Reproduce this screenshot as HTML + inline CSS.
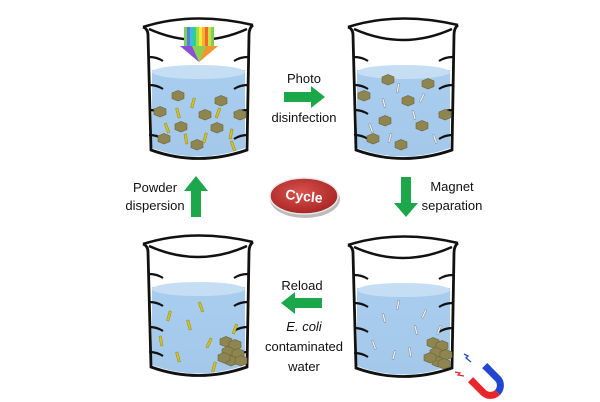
<!DOCTYPE html>
<html><head><meta charset="utf-8"><style>
html,body{margin:0;padding:0;background:#fff;width:600px;height:402px;overflow:hidden}
text{font-family:"Liberation Sans",sans-serif;font-size:13px;fill:#111}
</style></head><body>
<svg width="600" height="402" viewBox="0 0 600 402" xmlns="http://www.w3.org/2000/svg">
<defs>
<linearGradient id="wat" x1="0" y1="0" x2="0" y2="1"><stop offset="0" stop-color="#a9cdee"/><stop offset="1" stop-color="#a3c8ea"/></linearGradient>
<radialGradient id="cyc" cx="0.45" cy="0.4" r="0.6"><stop offset="0" stop-color="#d9534f"/><stop offset="1" stop-color="#a82624"/></radialGradient>
<g id="beaker">
 <path d="M9,55 L9,133 Q55,150 102,133 L102,55 Z" fill="url(#wat)"/>
 <ellipse cx="55.5" cy="57" rx="46.5" ry="7" fill="#c6def4"/>
 <path d="M0,12 Q50,-4 110,10" fill="none" stroke="#111" stroke-width="2.5"/>
 <path d="M6,14 Q55,36 104,14" fill="none" stroke="#111" stroke-width="2.5"/>
 <path d="M0,12 Q5,14 5,20 L8,135 Q55,152 104,135 L106,20 Q106,13 110,10" fill="none" stroke="#111" stroke-width="2.8"/>
 <g stroke="#111" stroke-width="2.2" fill="none">
  <path d="M6,42 Q14,42 20,46"/><path d="M6,70 Q14,70 20,74"/><path d="M6,95 Q14,95 20,99"/><path d="M6,120 Q14,120 20,124"/>
  <path d="M105,42 Q97,42 91,46"/><path d="M105,70 Q97,70 91,74"/><path d="M105,95 Q97,95 91,99"/><path d="M105,120 Q97,120 91,124"/>
 </g>
</g>
<g id="hex"><polygon points="-6,-3 0,-5.5 6,-3 6,2.5 0,5 -6,2.5" fill="#8f8551" stroke="#6e6538" stroke-width="0.6"/></g>
<g id="rodY"><rect x="-1.2" y="-5" width="2.4" height="10" fill="#d6c21d" stroke="#8a7a10" stroke-width="0.4"/></g>
<g id="rodW"><rect x="-0.9" y="-4.5" width="1.8" height="9" fill="#eef0f4" stroke="#777" stroke-width="0.4"/></g>
</defs>

<use href="#beaker" x="143" y="15"/>
<g>
 <rect x="184" y="27" width="30" height="20" fill="#7ecf5a"/>
 <rect x="190" y="27" width="3" height="20" fill="#3bbbe0"/><rect x="193" y="27" width="3" height="20" fill="#2fd08a"/>
 <rect x="196" y="27" width="3" height="20" fill="#9ae04a"/><rect x="199" y="27" width="3" height="20" fill="#f3ea3a"/>
 <rect x="202" y="27" width="3" height="20" fill="#f5b331"/><rect x="205" y="27" width="3" height="20" fill="#f16a2a"/>
 <rect x="187" y="27" width="3" height="20" fill="#5c7de0"/><rect x="208" y="27" width="3" height="20" fill="#d0e040"/>
 <polygon points="180,46 218,46 199,62" fill="#8ad050"/>
 <polygon points="180,46 192,46 199,62" fill="#8a4fd8"/>
 <polygon points="206,46 218,46 199,62" fill="#f29430"/>
</g>
<g>
 <use href="#hex" x="178" y="96"/><use href="#hex" x="160" y="112"/><use href="#hex" x="221" y="101"/><use href="#hex" x="205" y="115"/>
 <use href="#hex" x="181" y="127"/><use href="#hex" x="217" y="128"/><use href="#hex" x="164" y="139"/><use href="#hex" x="197" y="145"/><use href="#hex" x="240" y="115"/>
 <use href="#rodY" x="193" y="103" transform="rotate(15 193 103)"/><use href="#rodY" x="178" y="113" transform="rotate(-15 178 113)"/>
 <use href="#rodY" x="218" y="113" transform="rotate(20 218 113)"/><use href="#rodY" x="167" y="128" transform="rotate(-20 167 128)"/>
 <use href="#rodY" x="186" y="139" transform="rotate(-10 186 139)"/><use href="#rodY" x="205" y="138" transform="rotate(15 205 138)"/>
 <use href="#rodY" x="231" y="134" transform="rotate(10 231 134)"/><use href="#rodY" x="233" y="146" transform="rotate(-20 233 146)"/>
</g>

<use href="#beaker" x="348" y="15"/>
<g>
 <use href="#hex" x="388" y="80"/><use href="#hex" x="364" y="96"/><use href="#hex" x="428" y="84"/><use href="#hex" x="408" y="101"/>
 <use href="#hex" x="385" y="121"/><use href="#hex" x="422" y="126"/><use href="#hex" x="373" y="139"/><use href="#hex" x="401" y="145"/><use href="#hex" x="445" y="115"/>
 <use href="#rodW" x="398" y="88" transform="rotate(10 398 88)"/><use href="#rodW" x="384" y="103" transform="rotate(-15 384 103)"/>
 <use href="#rodW" x="422" y="98" transform="rotate(25 422 98)"/><use href="#rodW" x="371" y="128" transform="rotate(-20 371 128)"/>
 <use href="#rodW" x="414" y="115" transform="rotate(-15 414 115)"/><use href="#rodW" x="390" y="138" transform="rotate(15 390 138)"/>
 <use href="#rodW" x="435" y="139" transform="rotate(-20 435 139)"/>
</g>

<use href="#beaker" x="143" y="232"/>
<g>
 <use href="#rodY" x="201" y="307" transform="rotate(-20 201 307)"/><use href="#rodY" x="169" y="316" transform="rotate(15 169 316)"/>
 <use href="#rodY" x="189" y="325" transform="rotate(-15 189 325)"/><use href="#rodY" x="235" y="329" transform="rotate(20 235 329)"/>
 <use href="#rodY" x="161" y="341" transform="rotate(-10 161 341)"/><use href="#rodY" x="209" y="343" transform="rotate(25 209 343)"/>
 <use href="#rodY" x="178" y="357" transform="rotate(-15 178 357)"/><use href="#rodY" x="214" y="367" transform="rotate(15 214 367)"/>
 <use href="#hex" x="226" y="342"/><use href="#hex" x="235" y="345"/><use href="#hex" x="228" y="352"/><use href="#hex" x="238" y="354"/><use href="#hex" x="231" y="361"/><use href="#hex" x="241" y="361"/><use href="#hex" x="224" y="358"/>
</g>

<use href="#beaker" x="348" y="233"/>
<g>
 <use href="#rodW" x="398" y="305" transform="rotate(10 398 305)"/><use href="#rodW" x="384" y="318" transform="rotate(-15 384 318)"/>
 <use href="#rodW" x="424" y="314" transform="rotate(25 424 314)"/><use href="#rodW" x="416" y="330" transform="rotate(-15 416 330)"/>
 <use href="#rodW" x="374" y="345" transform="rotate(-20 374 345)"/><use href="#rodW" x="394" y="355" transform="rotate(15 394 355)"/>
 <use href="#rodW" x="410" y="352" transform="rotate(-10 410 352)"/><use href="#rodW" x="439" y="330" transform="rotate(20 439 330)"/>
 <use href="#hex" x="433" y="343"/><use href="#hex" x="442" y="346"/><use href="#hex" x="436" y="353"/><use href="#hex" x="446" y="355"/><use href="#hex" x="438" y="362"/><use href="#hex" x="430" y="358"/><use href="#hex" x="444" y="364"/>
</g>

<!-- magnet: opening toward upper-left -->
<g transform="translate(489,384) rotate(-45)">
 <path d="M10,-16 L10,2 A10,10 0 0 1 0,12" fill="none" stroke="#2246d0" stroke-width="7"/>
 <path d="M0,12 A10,10 0 0 1 -10,2 L-10,-16" fill="none" stroke="#e8262a" stroke-width="7"/>
 <rect x="-13.5" y="-16" width="7" height="5" fill="#e8262a"/>
 <rect x="6.5" y="-16" width="7" height="5" fill="#2246d0"/>
</g>
<path d="M464,354 l4,2 -2,2 5,4" fill="none" stroke="#2246d0" stroke-width="1.3"/>
<path d="M455,372 l5,1 -2,2 6,1" fill="none" stroke="#e8262a" stroke-width="1.3"/>

<polygon points="284,92 311,92 311,86 325,97 311,108 311,102 284,102" fill="#1ca84a"/>
<polygon points="401,177 411,177 411,203 418,203 406,217 394,203 401,203" fill="#1ca84a"/>
<polygon points="191,217 201,217 201,191 208,191 196,176 184,191 191,191" fill="#1ca84a"/>
<polygon points="322,298 295,298 295,292 281,303 295,314 295,308 322,308" fill="#1ca84a"/>

<ellipse cx="305" cy="199" rx="35" ry="19" fill="#bbb"/>
<ellipse cx="304" cy="196" rx="34" ry="18" fill="url(#cyc)" stroke="#e8e8e8" stroke-width="1.5"/>
<text x="304" y="201" text-anchor="middle" style="font-weight:bold;font-size:14px;fill:#fff" transform="rotate(6 304 197)">Cycle</text>

<text x="304" y="83" text-anchor="middle">Photo</text>
<text x="304" y="122" text-anchor="middle">disinfection</text>
<text x="452" y="191" text-anchor="middle">Magnet</text>
<text x="452" y="210" text-anchor="middle">separation</text>
<text x="155" y="192" text-anchor="middle">Powder</text>
<text x="155" y="210" text-anchor="middle">dispersion</text>
<text x="302" y="290" text-anchor="middle">Reload</text>
<text x="304" y="331" text-anchor="middle" style="font-style:italic">E. coli</text>
<text x="304" y="351" text-anchor="middle">contaminated</text>
<text x="304" y="371" text-anchor="middle">water</text>
</svg>
</body></html>
